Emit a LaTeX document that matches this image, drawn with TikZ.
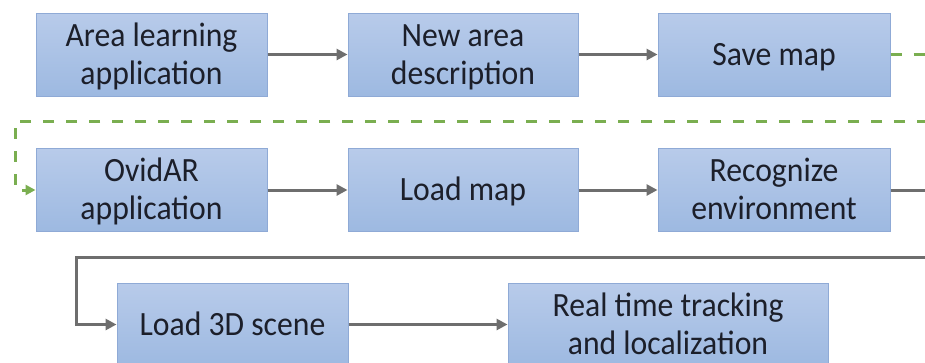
\documentclass[tikz,border=0pt]{standalone}
\usepackage{fontspec}
\setmainfont{Carlito}
\newfontfamily\boxfont[FakeStretch=0.932]{Carlito}
\usetikzlibrary{arrows.meta}
\definecolor{boxtop}{HTML}{B8CBEA}
\definecolor{boxbot}{HTML}{9DB9E1}
\definecolor{boxline}{HTML}{8FAAD6}
\definecolor{txt}{HTML}{1C1F2A}
\definecolor{grayarrow}{HTML}{6E6E6E}
\definecolor{greendash}{HTML}{7AAE50}
\tikzset{
  stepbox/.style={draw=boxline, line width=1pt, top color=boxtop, bottom color=boxbot,
    minimum height=83pt, inner sep=0pt, align=center, text=txt,
    font=\boxfont\fontsize{34}{38}\selectfont,
    execute at begin node={\rule{0pt}{32pt}},
    execute at end node={\rule[-11pt]{0pt}{0pt}}},
  twoline/.style={stepbox, execute at begin node={\rule{0pt}{70pt}}},
  flow/.style={draw=grayarrow, line width=3pt, -{Triangle[length=11pt,width=11pt]}},
  saveflow/.style={draw=greendash, line width=3pt, dash pattern=on 11pt off 12pt,
    -{Triangle[length=10pt,width=10pt]}}
}
\begin{document}
\begin{tikzpicture}[x=1pt,y=-1pt]
\useasboundingbox (0,0) rectangle (925,362);
\clip (0,0) rectangle (925,362);
\fill[white] (0,0) rectangle (925,362);
% row 1
\node[twoline, minimum width=231pt] (a1) at (151.5,54.5) {Area learning\\application};
\node[twoline, minimum width=230pt] (a2) at (463,54.5) {New area\\description};
\node[stepbox, minimum width=232pt] (a3) at (774,54.5) {Save map};
% row 2
\node[twoline, minimum width=231pt] (b1) at (151.5,190) {OvidAR\\application};
\node[stepbox, minimum width=230pt] (b2) at (463,190) {Load map};
\node[twoline, minimum width=232pt] (b3) at (774,190) {Recognize\\environment};
% row 3
\node[stepbox, minimum width=231pt] (c1) at (232.5,324.5) {Load 3D scene};
\node[twoline, minimum width=320pt] (c2) at (668,324.5) {Real time tracking\\and localization};
% turn points
\coordinate (g1) at (945,54.5);
\coordinate (g2) at (945,121);
\coordinate (g3) at (15,121);
\coordinate (h1) at (945,190);
\coordinate (h2) at (945,257);
\coordinate (h3) at (76,257);
% connectors
\draw[flow] (a1) -- (a2);
\draw[flow] (a2) -- (a3);
\draw[saveflow] (a3.east) -- (g1) -- (g2) -- (g3) |- (b1.west);
\draw[flow] (b1) -- (b2);
\draw[flow] (b2) -- (b3);
\draw[flow] (b3.east) -- (h1) -- (h2) -- (h3) |- (c1.west);
\draw[flow] (c1) -- (c2);
\end{tikzpicture}
\end{document}
